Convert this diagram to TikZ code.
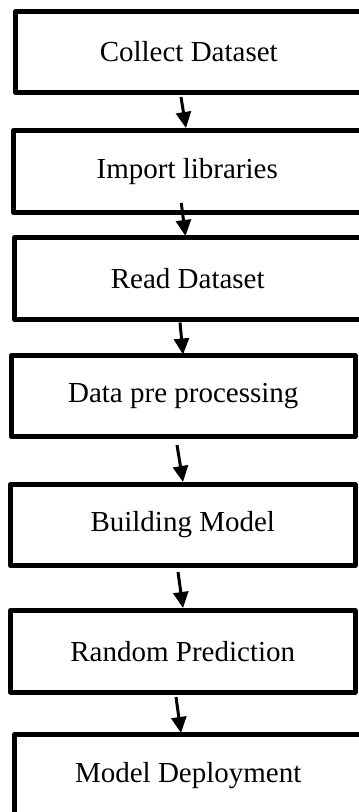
\documentclass[tikz,border=0pt]{standalone}
\usepackage{fontspec}
\setmainfont{Liberation Serif}
\usetikzlibrary{arrows.meta}

\begin{document}
\begin{tikzpicture}[x=1pt, y=-1pt,
    box/.style={draw, line width=5pt, line join=round, inner sep=0pt, outer sep=0pt,
      font=\fontsize{29}{34}\selectfont},
    flow/.style={line width=3pt, -{Triangle[width=15pt,length=16pt]}}]
    \clip (0,0) rectangle (359,812);
    \node[box, minimum width=346.5pt, minimum height=81pt] (1) at (188.75,52) {Collect Dataset};
    \node[box, minimum width=347.5pt, minimum height=82pt] (2) at (187.25,171.5) {Import libraries};
    \node[box, minimum width=346.5pt, minimum height=82pt] (3) at (187.75,278.5) {Read Dataset};
    \node[box, minimum width=343.5pt, minimum height=81pt] (4) at (183.25,396) {Data pre processing};
    \node[box, minimum width=344.5pt, minimum height=81pt] (5) at (182.75,525) {Building Model};
    \node[box, minimum width=344.5pt, minimum height=81.5pt] (6) at (182.75,651.25) {Random Prediction};
    \node[box, minimum width=347.5pt, minimum height=82pt] (7) at (188.25,775.5) {Model Deployment};
\begin{scope}[flow]
    \draw ([shift={(-7.75,4.5)}]1.south) -- ([shift={(-1.25,-2.5)}]2.north);
    \draw ([shift={(-6,-9.5)}]2.south) -- ([shift={(-2.25,-1.5)}]3.north);
    \draw ([shift={(-7.75,3)}]3.south) -- ([shift={(-0.25,-1)}]4.north);
    \draw ([shift={(-6.25,8.5)}]4.south) -- ([shift={(0.25,-2.5)}]5.north);
    \draw ([shift={(-4.75,6.5)}]5.south) -- ([shift={(0.25,-2.5)}]6.north);
    \draw ([shift={(-6.75,5)}]6.south) -- ([shift={(-7.25,-1.5)}]7.north);
\end{scope}
\end{tikzpicture}
\end{document}
